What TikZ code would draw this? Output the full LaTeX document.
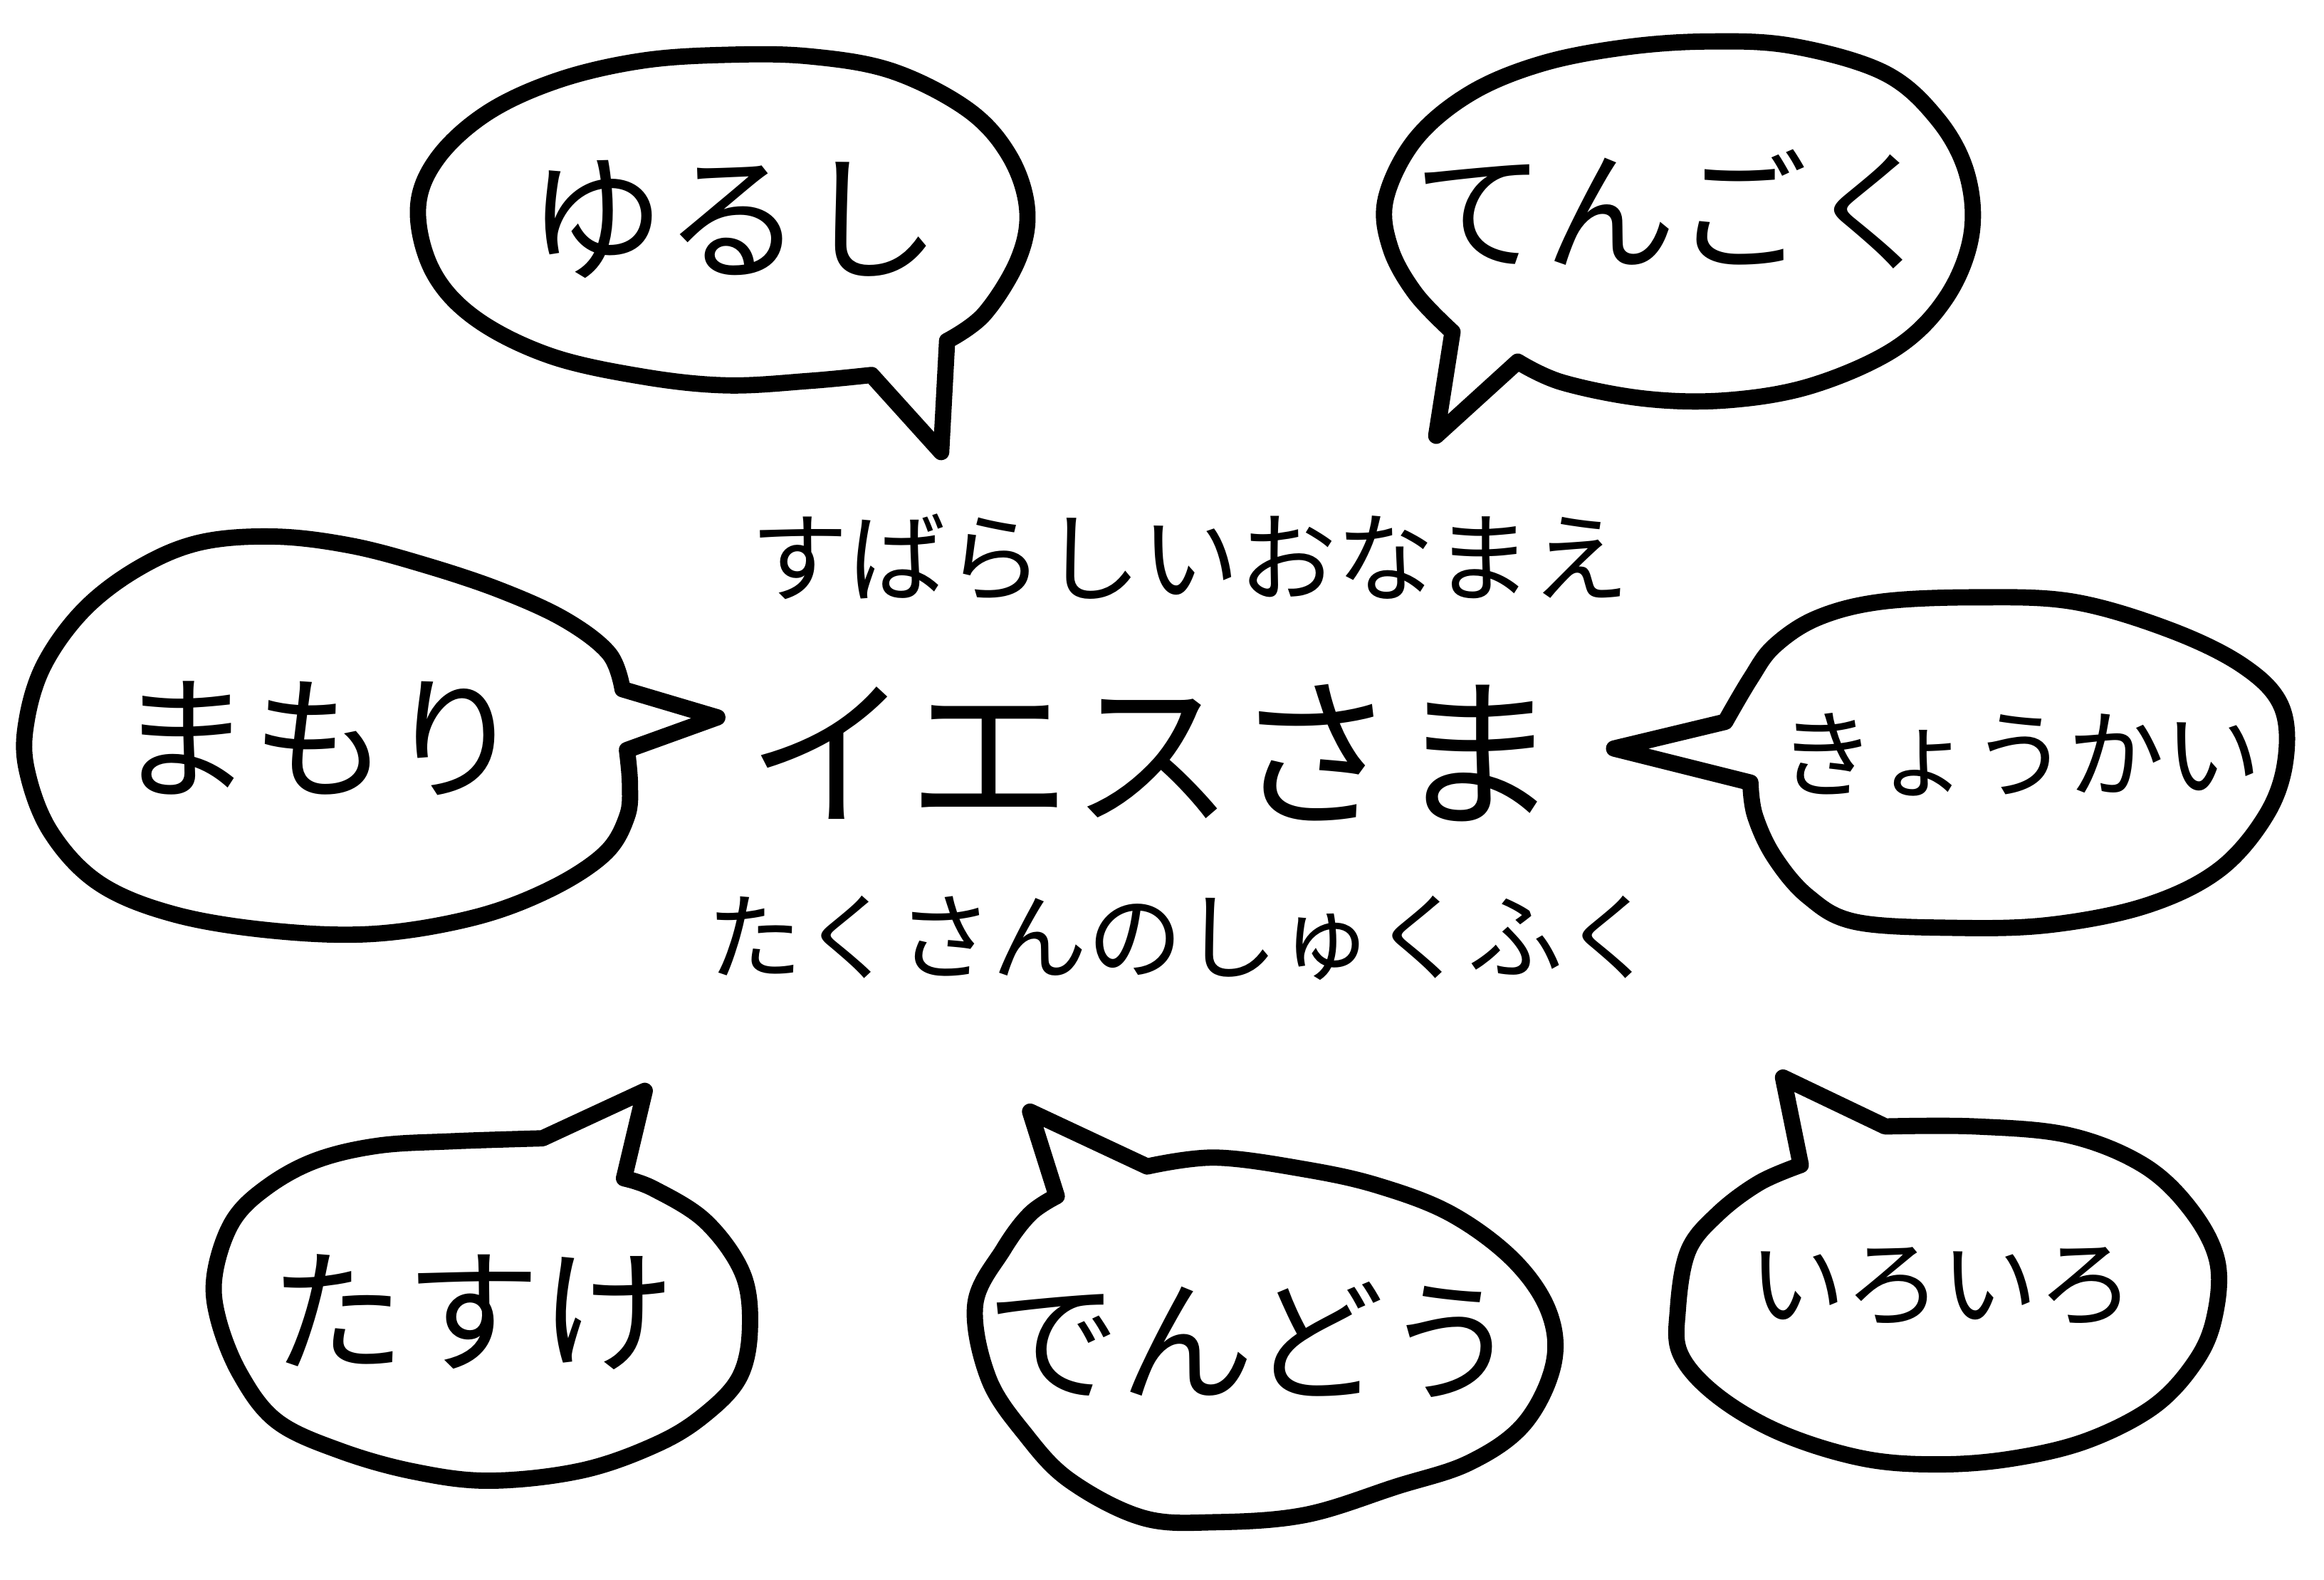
\documentclass[tikz,border=0pt]{standalone}
\usepackage{fontspec}
\setmainfont{Noto Sans CJK JP}
\newcommand\fsz[1]{\fontsize{#1}{#1}\selectfont}
\tikzset{
  bubble/.style={line width=6.5pt, line join=round, line cap=round},
  txt/.style={inner sep=0pt},
}
\begin{document}
\begin{tikzpicture}[x=0.02082cm, y=-0.02082cm]
\useasboundingbox (0,0) rectangle (1568,1066);
% bubble 1 (yurushi)
\draw[bubble] plot[smooth, tension=0.6] coordinates {(639,230) (664,212) (687,175) (693,141) (681,105) (653,74) (602,48) (546,38) (490,37) (433,41) (377,54) (329,76) (295,107) (282,141) (292,183) (321,215) (371,240) (433,254) (490,260) (546,257) (588,253)} -- (635,305) -- cycle;
% bubble 2 (tengoku)
\draw[bubble] plot[smooth, tension=0.6] coordinates {(1024,244) (1054,258) (1110,269) (1166,270) (1223,260) (1279,235) (1313,201) (1330,159) (1327,117) (1307,80) (1271,49) (1209,31) (1152,28) (1096,32) (1040,43) (992,63) (955,94) (935,134) (938,167) (955,198) (980,224)} -- (969,294) -- cycle;
% bubble 3 (mamori)
\draw[bubble] plot[smooth, tension=0.6] coordinates {(423,506) (425,529) (423,551) (408,576) (371,600) (320,619) (253,630) (185,628) (118,617) (67,596) (34,561) (18,519) (18,486) (30,448) (57,411) (94,383) (135,366) (185,362) (236,368) (286,381) (337,398) (381,418) (411,441) (420,465)} -- (484,484) -- cycle;
% bubble 4 (kyoukai)
\draw[bubble] plot[smooth, tension=0.6] coordinates {(1164,487) (1181,458) (1197,436) (1226,417) (1269,406) (1334,403) (1399,406) (1464,425) (1513,449) (1539,476) (1542,513) (1529,550) (1497,587) (1448,611) (1383,624) (1318,626) (1252,622) (1220,605) (1197,578) (1184,550) (1181,528)} -- (1089,505) -- cycle;
% bubble 5 (tasuke)
\draw[bubble] plot[smooth, tension=0.6] coordinates {(421,795) (441,802) (476,824) (501,859) (506,896) (499,929) (476,954) (444,974) (393,992) (331,999) (280,993) (230,979) (187,959) (162,927) (147,889) (145,859) (157,824) (180,801) (213,783) (255,773) (305,770) (366,768)} -- (435,736) -- cycle;
% bubble 6 (dendou)
\draw[bubble] plot[smooth, tension=0.6] coordinates {(774,787) (820,781) (881,789) (930,800) (979,819) (1021,850) (1045,885) (1048,921) (1028,961) (991,987) (942,1003) (881,1022) (820,1027) (771,1024) (722,999) (692,968) (667,930) (658,880) (677,843) (695,819) (713,807)} -- (695,750) -- cycle;
% bubble 7 (iroiro)
\draw[bubble] plot[smooth, tension=0.6] coordinates {(1272,760) (1333,760) (1396,766) (1446,786) (1478,816) (1496,851) (1494,889) (1481,919) (1453,949) (1408,972) (1358,984) (1308,988) (1257,984) (1202,967) (1159,942) (1134,914) (1132,884) (1139,844) (1159,819) (1187,798) (1215,786)} -- (1203,727) -- cycle;
% texts
\node[txt] (yurushi) at (495,148) {\fsz{55pt}ゆるし};
\node[txt] (tengoku) at (1131,141) {\fsz{52.5pt}てんごく};
\node[txt] (mamori) at (216,498) {\fsz{54pt}まもり};
\node[txt] (kyoukai) at (1363,509) {\fsz{38.5pt}きょうかい};
\node[txt] (tasuke) at (319,885) {\fsz{54pt}たすけ};
\node[txt] (dendou) at (845,904) {\fsz{53.5pt}でんどう};
\node[txt] (iroiro) at (1310,868) {\fsz{38.5pt}いろいろ};
\node[txt] (top) at (803,376) {\fsz{39pt}すばらしいおなまえ};
\node[txt] (jesus) at (778,508) {\fsz{65pt}イエスさま};
\node[txt] (bottom) at (798,633) {\fsz{38pt}たくさんのしゅくふく};
\end{tikzpicture}
\end{document}
